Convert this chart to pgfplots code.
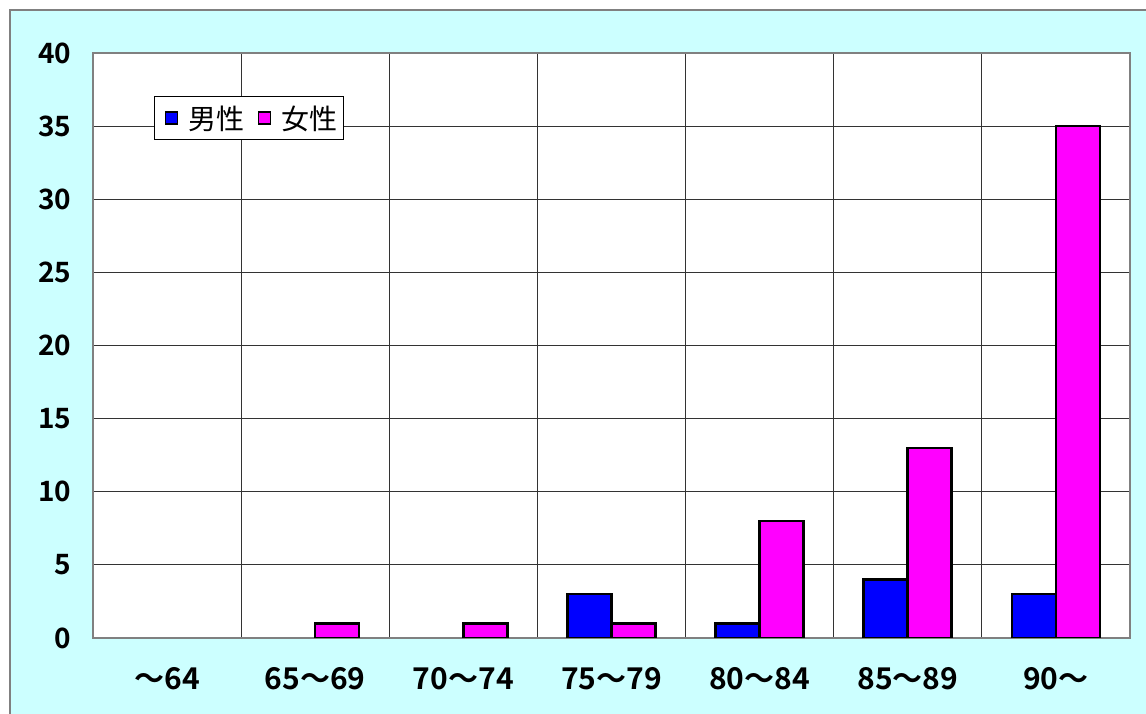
\documentclass[border=0pt]{standalone}
\usepackage{fontspec}
\setmainfont{Noto Sans CJK JP}[BoldFont={Noto Sans CJK JP Bold}]
\usepackage{pgfplots}
\pgfplotsset{compat=1.18}
\definecolor{bgcyan}{HTML}{CCFFFF}
\definecolor{mblue}{HTML}{0000FF}
\definecolor{fmag}{HTML}{FF00FF}
\definecolor{framegray}{HTML}{808080}
\begin{document}
\begin{tikzpicture}
\useasboundingbox (0pt,0pt) rectangle (1146pt,714pt);
\fill[bgcyan] (10pt,0pt) rectangle (1146pt,704pt);
\draw[framegray, line width=1.5pt] (10pt,0pt) -- (10pt,704pt) -- (1146pt,704pt);
\begin{axis}[
  at={(93pt,76pt)}, anchor=south west,
  scale only axis, width=1037pt, height=585pt,
  xmin=-0.5, xmax=6.5, ymin=0, ymax=40,
  ytick={0,5,...,40},
  xtick={0,...,6},
  xticklabels={～64,65～69,70～74,75～79,80～84,85～89,90～},
  minor xtick={0.5,1.5,...,5.5},
  xminorgrids, ymajorgrids,
  grid style={black!80, line width=1pt},
  minor grid style={black!80, line width=1pt},
  major tick length=8pt, minor tick length=0pt,
  tick align=inside,
  xtick style={draw=none},
  ytick style={black!80, line width=1pt},
  axis line style={framegray, line width=2pt},
  axis background/.style={fill=white},
  /pgf/number format/assume math mode=true,
  yticklabel style={font=\fontsize{28}{30}\selectfont\bfseries, xshift=-18pt},
  xticklabel style={font=\fontsize{30}{34}\selectfont\bfseries, yshift=-18pt},
  ybar=0pt, bar width=44pt,
  legend style={at={(0.0588,0.9265)}, anchor=north west, draw=black, line width=1pt,
    font=\fontsize{28}{32}\selectfont, inner xsep=4pt, inner ysep=7pt,
    /tikz/every odd column/.append style={column sep=8pt},
    /tikz/every even column/.append style={column sep=5pt}},
  legend columns=2,
  legend image code/.code={\path (0pt,0pt); \draw[#1, line width=1.5pt] (6pt,-6pt) rectangle (18pt,6pt);},
]
\addplot[fill=mblue, draw=black, line width=2.5pt] coordinates {(3,3) (4,1) (5,4) (6,3)};
\addplot[fill=fmag, draw=black, line width=2.5pt] coordinates {(1,1) (2,1) (3,1) (4,8) (5,13) (6,35)};
\legend{男性,女性}
\end{axis}
\end{tikzpicture}
\end{document}
